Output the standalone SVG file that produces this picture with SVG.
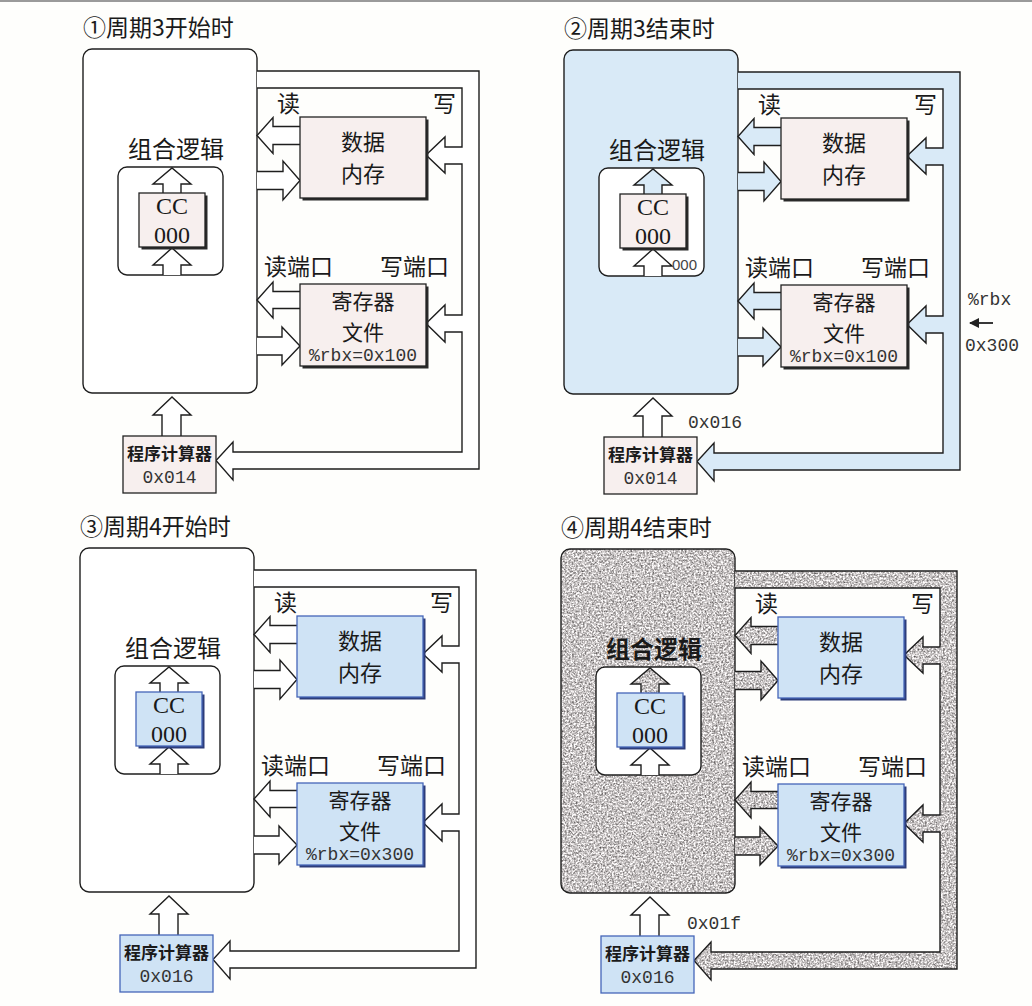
<svg xmlns="http://www.w3.org/2000/svg" xmlns:xlink="http://www.w3.org/1999/xlink" width="1032" height="1006" viewBox="0 0 1032 1006">
<style>
.ln{fill:none;stroke:#1e1e1e;stroke-width:1.4}
.wf{fill:#ffffff;stroke:#1e1e1e;stroke-width:1.4}
.bf{fill:#d9eaf7;stroke:#1e1e1e;stroke-width:1.4}
.tx{fill:#888;stroke:none;filter:url(#speckle)}
.pk{fill:#f7efee;stroke:#222;stroke-width:1.3}
.bx{fill:#cfe3f5;stroke:#4566b8;stroke-width:1.3}
.shP{fill:#2a2a2a}
.shB{fill:#2d3d7a}
.cjk{font-family:"Noto Sans CJK SC","Noto Sans CJK JP",sans-serif;fill:#1a1a1a}
.mono{font-family:"Liberation Mono","DejaVu Sans Mono",monospace;fill:#333}
.serif{font-family:"Liberation Serif","DejaVu Serif",serif;fill:#1a1a1a}
.t21{font-size:21px}
.t22{font-size:22px}
.t23{font-size:23px}
.t24{font-size:24px}
.mid{text-anchor:middle}
.pc{font-size:17px;font-weight:bold}
.m18{font-size:18px}
</style>
<defs>
<filter id="speckle" x="-2%" y="-2%" width="104%" height="104%" color-interpolation-filters="sRGB">
<feTurbulence type="fractalNoise" baseFrequency="0.55" numOctaves="3" seed="5" result="t"/>
<feColorMatrix in="t" type="matrix" values="1 0 0 0 0  1 0 0 0 0  1 0 0 0 0  0 0 0 0 1" result="g"/>
<feComponentTransfer in="g" result="c">
<feFuncR type="linear" slope="1.1" intercept="0.235"/>
<feFuncG type="linear" slope="1.1" intercept="0.22"/>
<feFuncB type="linear" slope="1.1" intercept="0.22"/>
</feComponentTransfer>
<feComposite in="c" in2="SourceGraphic" operator="in"/>
</filter>
<marker id="ah" viewBox="0 0 10 10" refX="9" refY="5" markerWidth="10" markerHeight="10" markerUnits="userSpaceOnUse" orient="auto">
<path d="M0,0 L10,5 L0,10 Z" fill="#222"/>
</marker>
<path id="pipe" d="M257,71 H479 V469 H233 V480 L216,460.5 L233,442 V452 H462 V332 H445 V342 L426,323.5 L445,305 V315 H462 V164 H445 V173 L426,155 L445,137 V147 H462 V88 H257"/>
<path id="aDMr" d="M300,126.5 H273 V117.5 L257,135.5 L273,153.5 V144.5 H300"/>
<path id="aDMw" d="M257,171.5 H283 V161 L300,180.5 L283,200 V189.5 H257"/>
<path id="aRFr" d="M300,291.5 H273 V282 L257,300 L273,318 V308.5 H300"/>
<path id="aRFw" d="M257,337 H282 V327 L300,346 L282,365 V355 H257"/>
<path id="aCCt" d="M163,193 V184 H153 L172,168 L191,184 H181 V193"/>
<path id="aCCb" d="M163,275 V265 H153 L172,248 L191,265 H181 V275"/>
<path id="aPC" d="M162,436 V415 H153 L172,397 L191,415 H181 V436"/>
</defs>
<rect x="0" y="0" width="1032" height="1006" fill="#fefefc"/>
<line x1="0" y1="1" x2="1032" y2="1" stroke="#9a9a9a" stroke-width="2"/>

<!-- Panel 1 -->
<g id="panel1">
<text class="cjk t23" x="83" y="36">①周期3开始时</text>
<g id="p1-logic">
<rect class="wf" x="83" y="49" width="174" height="344" rx="9"/>
<text class="cjk t24 mid" x="176" y="158">组合逻辑</text>
<rect class="wf" x="118" y="167" width="105" height="108" rx="9"/>
</g>
<g id="p1-connectors">
<use xlink:href="#pipe" class="wf"/>
<use xlink:href="#aDMr" class="wf"/>
<use xlink:href="#aDMw" class="wf"/>
<use xlink:href="#aRFr" class="wf"/>
<use xlink:href="#aRFw" class="wf"/>
<use xlink:href="#aCCt" class="wf"/>
<use xlink:href="#aCCb" class="wf"/>
<use xlink:href="#aPC" class="wf"/>
</g>
<g id="p1-cc">
<rect class="shP" x="141.5" y="195.5" width="66" height="54"/>
<rect class="pk" x="139" y="193" width="66" height="54"/>
<text class="serif t24 mid" x="172" y="214">CC</text>
<text class="serif t24 mid" x="172" y="243">000</text>
</g>
<g id="p1-dmem">
<text class="cjk t23" x="277" y="112">读</text>
<text class="cjk t23" x="433" y="112">写</text>
<rect class="shP" x="302.5" y="119.5" width="126" height="81"/>
<rect class="pk" x="300" y="117" width="126" height="81"/>
<text class="cjk t22 mid" x="363" y="150">数据</text>
<text class="cjk t22 mid" x="363" y="182">内存</text>
</g>
<g id="p1-regfile">
<text class="cjk t23" x="264" y="275">读端口</text>
<text class="cjk t23" x="380" y="275">写端口</text>
<rect class="shP" x="302.5" y="286.5" width="126" height="82"/>
<rect class="pk" x="300" y="284" width="126" height="82"/>
<text class="cjk t21 mid" x="363" y="309">寄存器</text>
<text class="cjk t21 mid" x="363" y="339.5">文件</text>
<text class="mono m18 mid" x="363" y="361">%rbx=0x100</text>
</g>
<g id="p1-pc">
<rect class="pk" x="123" y="436" width="93" height="57"/>
<text class="cjk pc mid" x="169.5" y="460">程序计算器</text>
<text class="mono m18 mid" x="169.5" y="483">0x014</text>
</g>
</g>

<!-- Panel 2 -->
<g id="panel2" transform="translate(481,1)">
<text class="cjk t23" x="83" y="36">②周期3结束时</text>
<g id="p2-logic">
<rect class="bf" x="83" y="49" width="174" height="344" rx="9"/>
<text class="cjk t24 mid" x="176" y="158">组合逻辑</text>
<rect class="wf" x="118" y="167" width="105" height="108" rx="9"/>
</g>
<g id="p2-connectors">
<use xlink:href="#pipe" class="bf"/>
<use xlink:href="#aDMr" class="bf"/>
<use xlink:href="#aDMw" class="bf"/>
<use xlink:href="#aRFr" class="bf"/>
<use xlink:href="#aRFw" class="bf"/>
<use xlink:href="#aCCt" class="bf"/>
<use xlink:href="#aCCb" class="wf"/>
<use xlink:href="#aPC" class="wf"/>
<line x1="512" y1="322" x2="489" y2="322" stroke="#222" stroke-width="1.8" marker-end="url(#ah)"/>
</g>
<g id="p2-cc">
<rect class="shP" x="141.5" y="195.5" width="66" height="54"/>
<rect class="pk" x="139" y="193" width="66" height="54"/>
<text class="serif t24 mid" x="172" y="214">CC</text>
<text class="serif t24 mid" x="172" y="243">000</text>
<text x="191" y="269" font-family="Liberation Sans, sans-serif" font-size="15" fill="#444">000</text>
</g>
<g id="p2-dmem">
<text class="cjk t23" x="277" y="112">读</text>
<text class="cjk t23" x="433" y="112">写</text>
<rect class="shP" x="302.5" y="119.5" width="126" height="81"/>
<rect class="pk" x="300" y="117" width="126" height="81"/>
<text class="cjk t22 mid" x="363" y="150">数据</text>
<text class="cjk t22 mid" x="363" y="182">内存</text>
</g>
<g id="p2-regfile">
<text class="cjk t23" x="264" y="275">读端口</text>
<text class="cjk t23" x="380" y="275">写端口</text>
<rect class="shP" x="302.5" y="286.5" width="126" height="82"/>
<rect class="pk" x="300" y="284" width="126" height="82"/>
<text class="cjk t21 mid" x="363" y="309">寄存器</text>
<text class="cjk t21 mid" x="363" y="339.5">文件</text>
<text class="mono m18 mid" x="363" y="361">%rbx=0x100</text>
<text class="mono m18" x="487" y="304">%rbx</text>
<text class="mono m18" x="484" y="350">0x300</text>
</g>
<g id="p2-pc">
<rect class="pk" x="123" y="436" width="93" height="57"/>
<text class="cjk pc mid" x="169.5" y="460">程序计算器</text>
<text class="mono m18 mid" x="169.5" y="483">0x014</text>
<text class="mono m18" x="207" y="427">0x016</text>
</g>
</g>

<!-- Panel 3 -->
<g id="panel3" transform="translate(-3,499)">
<text class="cjk t23" x="83" y="36">③周期4开始时</text>
<g id="p3-logic">
<rect class="wf" x="83" y="49" width="174" height="344" rx="9"/>
<text class="cjk t24 mid" x="176" y="158">组合逻辑</text>
<rect class="wf" x="118" y="167" width="105" height="108" rx="9"/>
</g>
<g id="p3-connectors">
<use xlink:href="#pipe" class="wf"/>
<use xlink:href="#aDMr" class="wf"/>
<use xlink:href="#aDMw" class="wf"/>
<use xlink:href="#aRFr" class="wf"/>
<use xlink:href="#aRFw" class="wf"/>
<use xlink:href="#aCCt" class="wf"/>
<use xlink:href="#aCCb" class="wf"/>
<use xlink:href="#aPC" class="wf"/>
</g>
<g id="p3-cc">
<rect class="shB" x="141.5" y="195.5" width="66" height="54"/>
<rect class="bx" x="139" y="193" width="66" height="54"/>
<text class="serif t24 mid" x="172" y="214">CC</text>
<text class="serif t24 mid" x="172" y="243">000</text>
</g>
<g id="p3-dmem">
<text class="cjk t23" x="277" y="112">读</text>
<text class="cjk t23" x="433" y="112">写</text>
<rect class="shB" x="302.5" y="119.5" width="126" height="81"/>
<rect class="bx" x="300" y="117" width="126" height="81"/>
<text class="cjk t22 mid" x="363" y="150">数据</text>
<text class="cjk t22 mid" x="363" y="182">内存</text>
</g>
<g id="p3-regfile">
<text class="cjk t23" x="264" y="275">读端口</text>
<text class="cjk t23" x="380" y="275">写端口</text>
<rect class="shB" x="302.5" y="286.5" width="126" height="82"/>
<rect class="bx" x="300" y="284" width="126" height="82"/>
<text class="cjk t21 mid" x="363" y="309">寄存器</text>
<text class="cjk t21 mid" x="363" y="339.5">文件</text>
<text class="mono m18 mid" x="363" y="361">%rbx=0x300</text>
</g>
<g id="p3-pc">
<rect class="bx" x="123" y="436" width="93" height="57"/>
<text class="cjk pc mid" x="169.5" y="460">程序计算器</text>
<text class="mono m18 mid" x="169.5" y="483">0x016</text>
</g>
</g>

<!-- Panel 4 -->
<g id="panel4" transform="translate(478,500)">
<text class="cjk t23" x="83" y="36">④周期4结束时</text>
<g id="p4-logic">
<rect class="tx" x="83" y="49" width="174" height="344" rx="9"/>
<rect class="ln" x="83" y="49" width="174" height="344" rx="9"/>
<text class="cjk t24 mid" x="176" y="158" font-weight="bold">组合逻辑</text>
<rect class="wf" x="118" y="167" width="105" height="108" rx="9"/>
</g>
<g id="p4-connectors">
<use xlink:href="#pipe" class="tx"/><use xlink:href="#pipe" class="ln"/>
<use xlink:href="#aDMr" class="tx"/><use xlink:href="#aDMr" class="ln"/>
<use xlink:href="#aDMw" class="tx"/><use xlink:href="#aDMw" class="ln"/>
<use xlink:href="#aRFr" class="tx"/><use xlink:href="#aRFr" class="ln"/>
<use xlink:href="#aRFw" class="tx"/><use xlink:href="#aRFw" class="ln"/>
<use xlink:href="#aCCt" class="tx"/><use xlink:href="#aCCt" class="ln"/>
<use xlink:href="#aCCb" class="wf"/>
<use xlink:href="#aPC" class="wf"/>
</g>
<g id="p4-cc">
<rect class="shB" x="141.5" y="195.5" width="66" height="54"/>
<rect class="bx" x="139" y="193" width="66" height="54"/>
<text class="serif t24 mid" x="172" y="214">CC</text>
<text class="serif t24 mid" x="172" y="243">000</text>
</g>
<g id="p4-dmem">
<text class="cjk t23" x="277" y="112">读</text>
<text class="cjk t23" x="433" y="112">写</text>
<rect class="shB" x="302.5" y="119.5" width="126" height="81"/>
<rect class="bx" x="300" y="117" width="126" height="81"/>
<text class="cjk t22 mid" x="363" y="150">数据</text>
<text class="cjk t22 mid" x="363" y="182">内存</text>
</g>
<g id="p4-regfile">
<text class="cjk t23" x="264" y="275">读端口</text>
<text class="cjk t23" x="380" y="275">写端口</text>
<rect class="shB" x="302.5" y="286.5" width="126" height="82"/>
<rect class="bx" x="300" y="284" width="126" height="82"/>
<text class="cjk t21 mid" x="363" y="309">寄存器</text>
<text class="cjk t21 mid" x="363" y="339.5">文件</text>
<text class="mono m18 mid" x="363" y="361">%rbx=0x300</text>
</g>
<g id="p4-pc">
<rect class="bx" x="123" y="436" width="93" height="57"/>
<text class="cjk pc mid" x="169.5" y="460">程序计算器</text>
<text class="mono m18 mid" x="169.5" y="483">0x016</text>
<text class="mono m18" x="209" y="429">0x01f</text>
</g>
</g>
</svg>
